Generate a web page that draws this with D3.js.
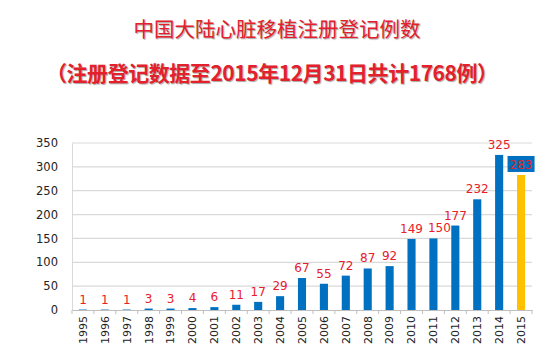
<!DOCTYPE html>
<html><head><meta charset="utf-8">
<script src="https://cdn.jsdelivr.net/npm/d3@7"></script>
<style>body{margin:0;background:#fff;}svg{display:block;}</style>
</head><body><svg id="c" width="553" height="357"></svg>
<script>
const years = ["1995","1996","1997","1998","1999","2000","2001","2002","2003","2004","2005","2006","2007","2008","2009","2010","2011","2012","2013","2014","2015"];
const counts = [1,1,1,3,3,4,6,11,17,29,67,55,72,87,92,149,150,177,232,325,283];
const yTicks = [0,50,100,150,200,250,300,350];
const title1 = "中国大陆心脏移植注册登记例数";
const title2 = "（注册登记数据至2015年12月31日共计1768例）";

const svg = d3.select("#c");
const m = {l:72, r:21, t:143, b:47};
const W = 553, H = 357;
const x = d3.scaleBand().domain(years).range([m.l, W-m.r]).paddingInner(0.63).paddingOuter(0.315);
const y = d3.scaleLinear().domain([0,350]).range([310, 143]);
const font = "'Noto Sans CJK SC', sans-serif";

// titles
const red = "#e3202b";
svg.append("text").attr("x", 277).attr("y", 37).attr("text-anchor","middle")
  .attr("font-family", font).attr("font-size", 20.5).attr("fill", red)
  .style("text-shadow","1px 1px 1px rgba(0,0,0,0.35)").text(title1);
svg.append("text").attr("x", 272).attr("y", 81).attr("text-anchor","middle")
  .attr("font-family", font).attr("font-weight","bold").attr("font-size", 21).attr("fill", red)
  .attr("textLength", 452).attr("lengthAdjust","spacing")
  .style("text-shadow","1px 1px 1px rgba(0,0,0,0.35)").text(title2);

// grid
svg.append("g").selectAll("line").data(yTicks.filter(d=>d>0)).join("line")
  .attr("x1", m.l).attr("x2", W-m.r).attr("y1", d=>y(d)).attr("y2", d=>y(d))
  .attr("stroke","#d9d9d9").attr("stroke-width",1.2);

// y axis
const ya = svg.append("g").attr("transform",`translate(${m.l},0)`)
  .call(d3.axisLeft(y).tickValues(yTicks).tickSize(0).tickPadding(14));
ya.select(".domain").attr("stroke","#d9d9d9");
ya.selectAll("text").attr("font-family","'DejaVu Sans', sans-serif").attr("font-size",11.5).attr("fill","#222");

// bars
svg.append("g").selectAll("rect").data(years).join("rect")
  .attr("x", d=>x(d)).attr("width", x.bandwidth())
  .attr("y", (d,i)=>y(counts[i])).attr("height", (d,i)=>y(0)-y(counts[i]))
  .attr("fill", (d,i)=> d==="2015" ? "#ffc000" : "#0070c0");

// x axis
const xa = svg.append("g").attr("transform","translate(0,310)")
  .call(d3.axisBottom(x).tickSize(0).tickPadding(6));
xa.select(".domain").attr("stroke","#bfbfbf").attr("stroke-width",1.2);
xa.selectAll(".tick text").attr("font-family","'DejaVu Sans', sans-serif").attr("font-size",11).attr("fill","#222")
  .attr("transform","rotate(-90)").attr("x",-6).attr("y",0).attr("dy","0.35em").attr("dx",0).attr("text-anchor","end");
// boundary ticks
const step = x.step();
svg.append("g").selectAll("line").data(d3.range(years.length+1)).join("line")
  .attr("x1", i=> m.l + i*step).attr("x2", i=> m.l + i*step)
  .attr("y1", 310).attr("y2", 314).attr("stroke","#bfbfbf");

// labels
const lab = svg.append("g");
years.forEach((d,i)=>{
  const cx = x(d)+x.bandwidth()/2 + (d==="2011" ? 6 : 0);
  if (d==="2015") {
    lab.append("rect").attr("x", cx-13.5).attr("y", y(counts[i])-19).attr("width",27).attr("height",16).attr("fill","#0070c0");
  }
  lab.append("text").attr("x", cx).attr("y", y(counts[i]) - (d==="2015"?6:6))
    .attr("text-anchor","middle").attr("font-family","'DejaVu Sans', sans-serif").attr("font-size",12)
    .attr("fill","#e8202a").text(counts[i]);
});
</script></body></html>
